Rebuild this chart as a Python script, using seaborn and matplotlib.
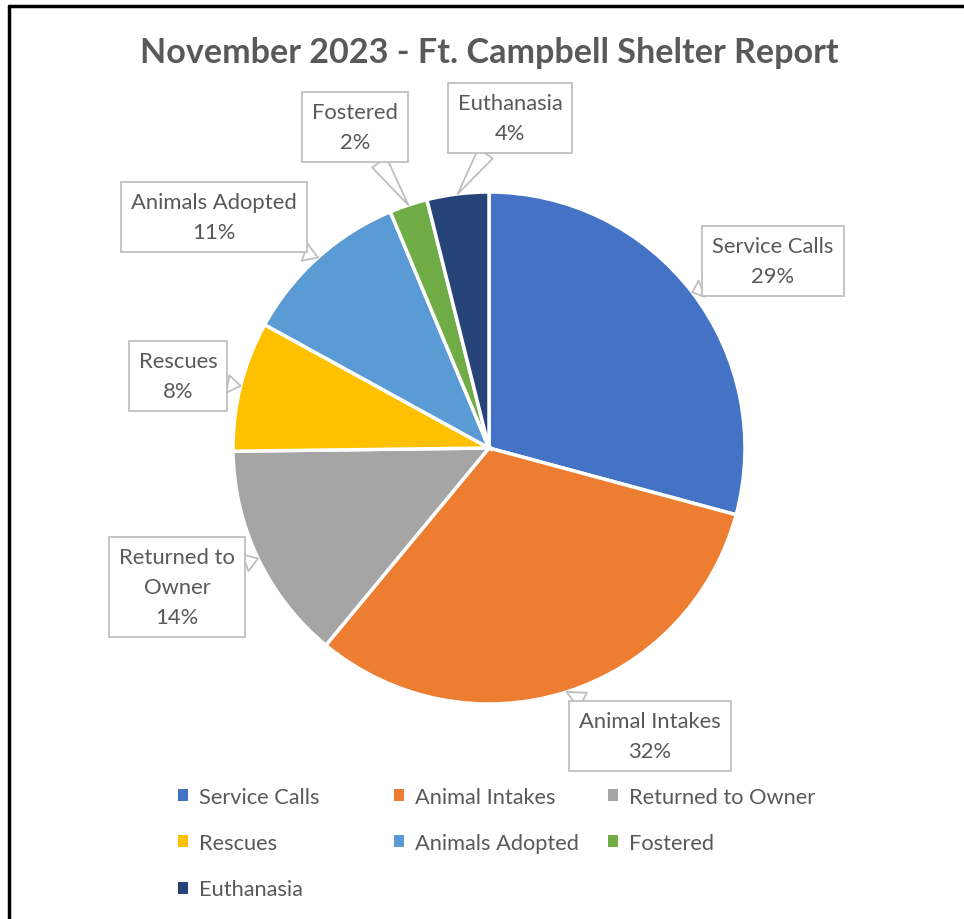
import matplotlib.pyplot as plt
from matplotlib.patches import Patch
from matplotlib.lines import Line2D
import numpy as np
import seaborn as sns

# data
categories = ["Service Calls", "Animal Intakes", "Returned to Owner", "Rescues",
              "Animals Adopted", "Fostered", "Euthanasia"]
shares = [29.2, 31.8, 13.8, 8.2, 10.7, 2.4, 3.9]
box_names = ["Service Calls", "Animal Intakes", "Returned to\nOwner", "Rescues",
             "Animals Adopted", "Fostered", "Euthanasia"]
colors = ["#4472C4", "#ED7D31", "#A5A5A5", "#FFC000", "#5B9BD5", "#70AD47", "#264478"]

# callout box centres (pixels from top-left)
box_pos = [(773, 262), (650, 737), (177, 588), (178, 377), (214, 218), (355, 128), (510, 119)]

sns.set_style("white")
plt.rcParams['font.family'] = ['Lato', 'DejaVu Sans']
W, H = 964, 920
text_col = "#595959"
edge_col = "#BFBFBF"

fig = plt.figure(figsize=(W / 100, H / 100), dpi=100)
ax = fig.add_axes([0, 0, 1, 1])

cx, cy, r = 489, H - 449, 256
wedges, _ = ax.pie(shares, colors=colors, startangle=90, counterclock=False,
                   center=(cx, cy), radius=r,
                   wedgeprops=dict(edgecolor="white", linewidth=2.5))
ax.set_xlim(0, W)
ax.set_ylim(0, H)
ax.set_aspect("equal")
ax.axis("off")

for w, name, v, (bx, by) in zip(wedges, box_names, shares, box_pos):
    mid = np.deg2rad((w.theta1 + w.theta2) / 2)
    tip = (cx + r * np.cos(mid), cy + r * np.sin(mid))
    ax.annotate(f"{name}\n{v:.0f}%", xy=tip, xytext=(bx, H - by),
                ha="center", va="center", fontsize=15.8, color=text_col,
                linespacing=1.62,
                bbox=dict(boxstyle="square,pad=0.45", fc="white", ec=edge_col, lw=1.3),
                arrowprops=dict(arrowstyle="wedge,tail_width=0.8", fc="white",
                                ec=edge_col, lw=1.3, shrinkA=0, shrinkB=0))

fig.text(489 / W, 1 - 53 / H, "November 2023 - Ft. Campbell Shelter Report",
         ha="center", va="center", fontsize=24.6, fontweight="bold", color=text_col)

# legend, laid out in equal-width columns
groups = [[0, 3, 6], [1, 4], [2, 5]]
col_x = [178, 394, 608]
for idx, x in zip(groups, col_x):
    handles = [Patch(facecolor=colors[i], edgecolor="none") for i in idx]
    fig.legend(handles, [categories[i] for i in idx], loc="upper left",
               bbox_to_anchor=(x / W, 1 - 788 / H), frameon=False,
               fontsize=15.7, labelcolor=text_col, borderpad=0, borderaxespad=0,
               handlelength=0.48, handleheight=0.48, handletextpad=0.5,
               labelspacing=1.2)

# chart frame (left and top edges visible in the crop)
fig.add_artist(Line2D([9 / W, 9 / W], [0, 1 - 7 / H], color="black", lw=2.5))
fig.add_artist(Line2D([9 / W, 1], [1 - 7 / H, 1 - 7 / H], color="black", lw=2.5))

fig.savefig("out.png", dpi=100, facecolor="white")
